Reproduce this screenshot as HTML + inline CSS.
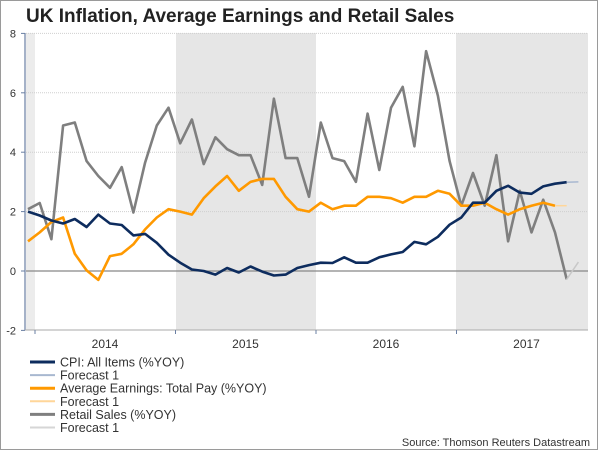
<!DOCTYPE html>
<html><head><meta charset="utf-8"><style>
html,body{margin:0;padding:0;background:#fff;}
#wrap{position:relative;width:600px;height:450px;overflow:hidden;font-family:"Liberation Sans",sans-serif;}
</style></head><body>
<div id="wrap">
<svg id="chart" width="600" height="450" xmlns="http://www.w3.org/2000/svg"></svg>
</div>
<script>
const cpi=[2.0,1.87,1.7,1.6,1.75,1.48,1.9,1.6,1.55,1.2,1.25,0.95,0.55,0.28,0.05,0,-0.12,0.1,-0.05,0.15,-0.02,-0.15,-0.12,0.1,0.2,0.28,0.27,0.46,0.28,0.28,0.46,0.56,0.64,0.98,0.9,1.15,1.56,1.8,2.3,2.3,2.7,2.87,2.64,2.6,2.85,2.94,2.99];
const cpiForecast=[2.99,3.0];
const earnings=[1.0,1.3,1.65,1.8,0.58,0.02,-0.3,0.5,0.58,0.9,1.4,1.8,2.08,2.0,1.9,2.45,2.85,3.2,2.7,3.0,3.1,3.1,2.5,2.08,2.0,2.3,2.08,2.2,2.2,2.5,2.5,2.45,2.3,2.5,2.5,2.7,2.6,2.2,2.2,2.3,2.08,1.9,2.08,2.2,2.3,2.2];
const earningsForecast=[2.2,2.2];
const retail=[2.08,2.29,1.07,4.9,5.0,3.7,3.2,2.8,3.5,1.97,3.65,4.9,5.5,4.3,5.1,3.6,4.5,4.1,3.9,3.9,2.9,5.8,3.8,3.8,2.5,5.0,3.8,3.7,3.0,5.3,3.4,5.5,6.2,4.2,7.4,5.9,3.7,2.2,3.3,2.2,3.9,1.0,2.7,1.3,2.4,1.3,-0.28];
const retailForecast=[-0.28,0.3];
const yTicks=[-2,0,2,4,6,8];
const years=["2014","2015","2016","2017"];

const svg=document.getElementById('chart');
const NS="http://www.w3.org/2000/svg";
const X0=28,DX=11.71,Y0=271,DY=29.7;
const xs=i=>X0+i*DX;
const ys=v=>Y0-v*DY;
function mk(tag,attrs,parent){const e=document.createElementNS(NS,tag);for(const k in attrs)e.setAttribute(k,attrs[k]);(parent||svg).appendChild(e);return e;}

// border
let b=mk('rect',{x:0.5,y:0.5,width:597,height:449,fill:'none',stroke:'#9a9a9a'});


// title
let t=mk('text',{x:26,y:22,'font-size':19,'font-weight':'bold',fill:'#222'});t.textContent='UK Inflation, Average Earnings and Retail Sales';


// shaded bands
const bands=[[26,35,'#ececec'],[176,316,'#e6e6e6'],[456,588,'#e6e6e6']];
bands.forEach(bd=>{let r=mk('rect',{x:bd[0],y:33,width:bd[1]-bd[0],height:297,fill:bd[2]});

});
// gridlines
yTicks.forEach(v=>{const y=ys(v);
 if(v>0){let g=mk('line',{x1:26,x2:588,y1:y,y2:y,stroke:'#cfcfcf','stroke-dasharray':'1,1'});
 
 }
 let l=mk('text',{x:16,y:y+4,'font-size':11,'text-anchor':'end',fill:'#333'});l.textContent=v;
 
 
 mk('line',{x1:21,x2:25,y1:y,y2:y,stroke:'#6a7fa3'});
});
let z=mk('line',{x1:26,x2:588,y1:ys(0),y2:ys(0),stroke:'#888','stroke-width':1.2});


let ya=mk('line',{x1:25,x2:25,y1:33,y2:330,stroke:'#6a7fa3','stroke-width':1.2});


let xa=mk('line',{x1:25,x2:588,y1:330,y2:330,stroke:'#aaa'});


years.forEach((yr,k)=>{const x=35+k*140.5;
 mk('line',{x1:x,x2:x,y1:330,y2:334,stroke:'#6a7fa3'});
 let l=mk('text',{x:x+70,y:348,'font-size':12,'text-anchor':'middle',fill:'#333'});l.textContent=yr;
 
 
});
function series(arr,start,color,w,name){
 const pts=arr.map((v,i)=>xs(start+i).toFixed(1)+','+ys(v).toFixed(1)).join(' ');
 let p=mk('polyline',{points:pts,fill:'none',stroke:color,'stroke-width':w,'stroke-linejoin':'round'});
 
 
}
series(retail,0,'#7f7f7f',2.6,'retail-sales-line');
series(retailForecast,retail.length-1,'#c8c8c8',1.5,'retail-forecast-line');
series(earnings,0,'#ff9900',2.6,'earnings-line');
series(earningsForecast,earnings.length-1,'#ffd699',1.5,'earnings-forecast-line');
series(cpi,0,'#0d2c5e',2.6,'cpi-line');
series(cpiForecast,cpi.length-1,'#a8b8d0',1.5,'cpi-forecast-line');
// legend
const leg=[['CPI: All Items (%YOY)','#0d2c5e',3],['Forecast 1','#a8b8d0',2],['Average Earnings: Total Pay (%YOY)','#ff9900',3],['Forecast 1','#ffd699',2],['Retail Sales (%YOY)','#7f7f7f',3],['Forecast 1','#d6d6d6',2]];
leg.forEach((e,i)=>{const y=362+i*13.1;
 let g=mk('g',{});
 
 
 mk('line',{x1:30,x2:55,y1:y,y2:y,stroke:e[1],'stroke-width':e[2]},g);
 let tx=mk('text',{x:60,y:y+4.5,'font-size':12.5,fill:'#333'},g);tx.textContent=e[0];
});
let s=mk('text',{x:590,y:446,'font-size':11,'text-anchor':'end',fill:'#333'});s.textContent='Source: Thomson Reuters Datastream';


</script>
</body></html>
